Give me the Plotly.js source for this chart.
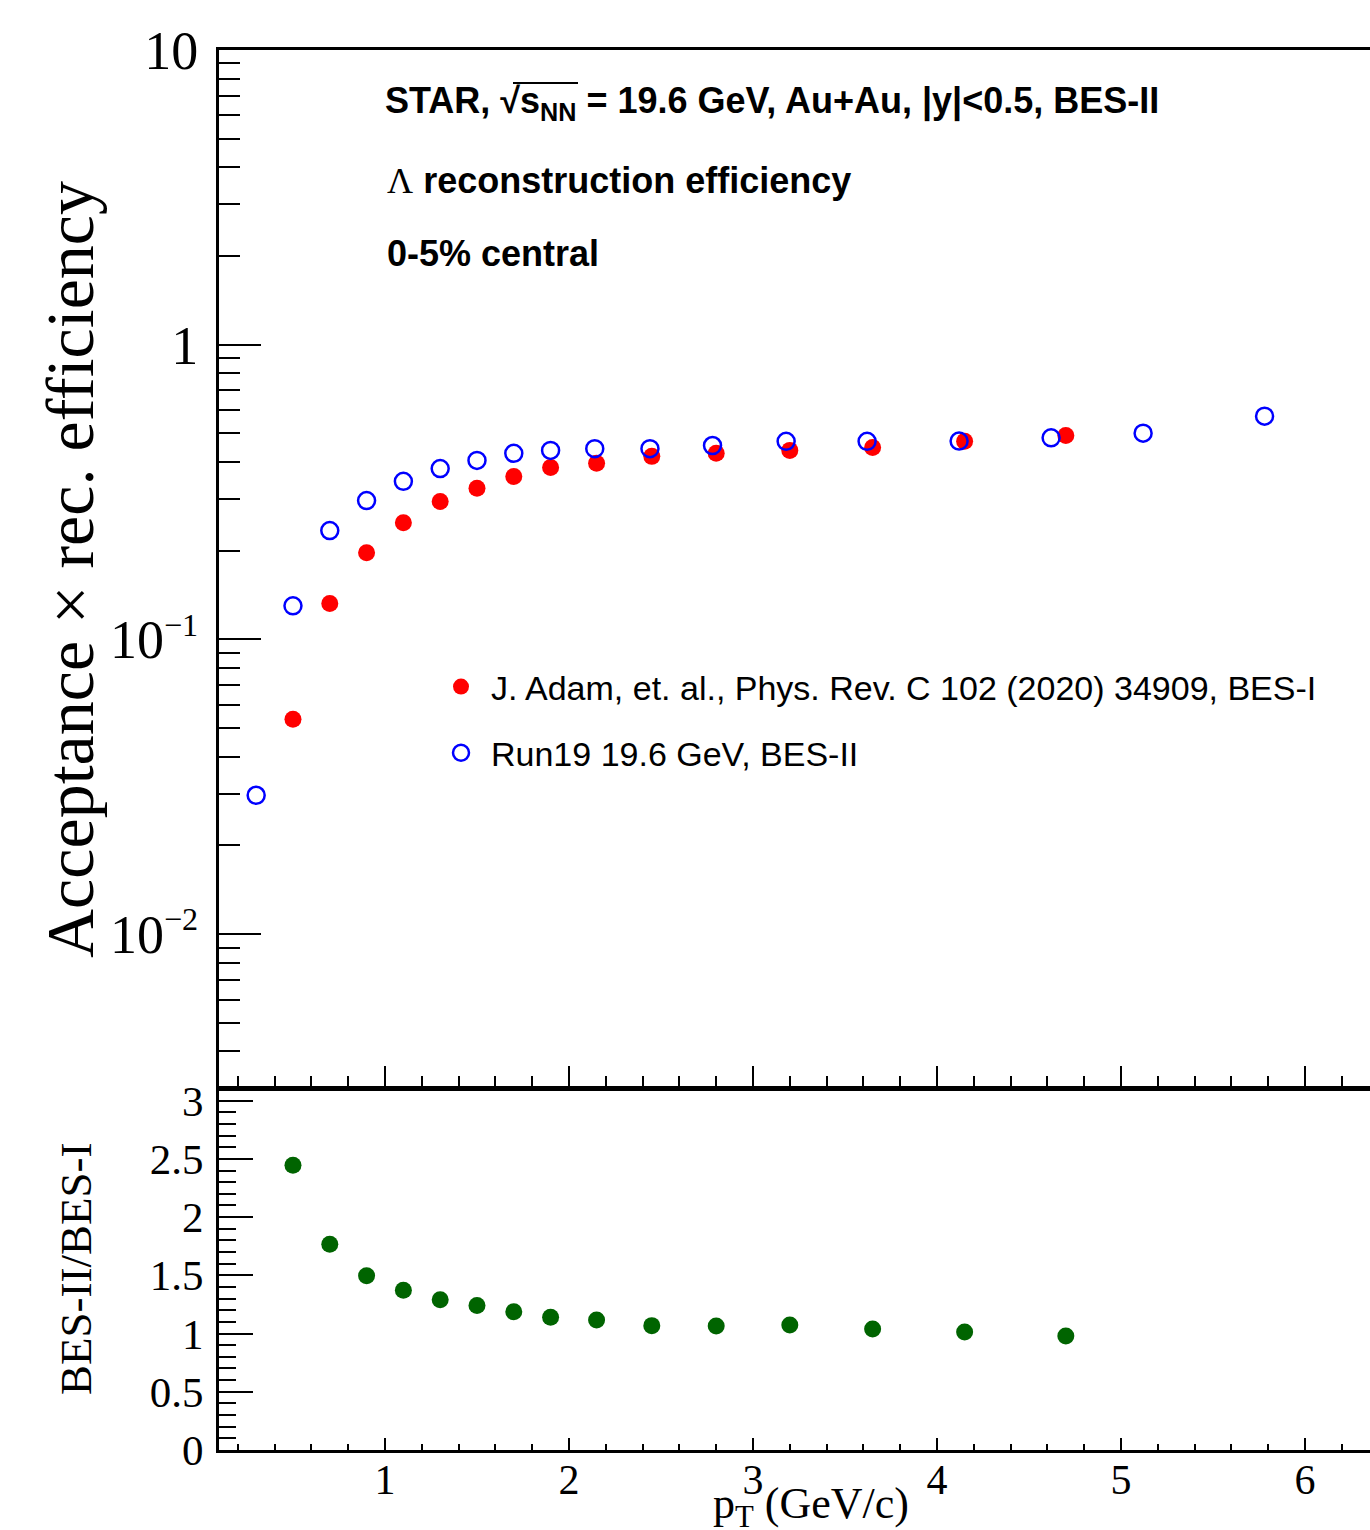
<!DOCTYPE html>
<html>
<head>
<meta charset="utf-8">
<script src="https://cdn.plot.ly/plotly-3.0.1.min.js"></script>
<style>
  html, body { margin: 0; padding: 0; background: #ffffff; }
  #chart { width: 1370px; height: 1530px; }
</style>
</head>
<body>
<div id="chart"></div>
<script>
// Lambda acceptance x reconstruction efficiency, 0-5% central Au+Au at 19.6 GeV

// BES-I (published) efficiency
const ptBES1 = [0.5, 0.7, 0.9, 1.1, 1.3, 1.5, 1.7, 1.9, 2.15, 2.45, 2.8, 3.2, 3.65, 4.15, 4.7];
const effBES1 = [0.0536, 0.1325, 0.197, 0.249, 0.294, 0.326, 0.357, 0.383, 0.396, 0.418, 0.428, 0.438, 0.448, 0.470, 0.492];

// BES-II (Run19) efficiency
const ptBES2 = [0.3, 0.5, 0.7, 0.9, 1.1, 1.3, 1.5, 1.7, 1.9, 2.14, 2.44, 2.78, 3.18, 3.62, 4.12, 4.62, 5.12, 5.78];
const effBES2 = [0.0296, 0.130, 0.234, 0.296, 0.344, 0.380, 0.405, 0.428, 0.438, 0.444, 0.444, 0.455, 0.470, 0.470, 0.471, 0.483, 0.501, 0.572];

// Ratio BES-II / BES-I at the BES-I pT bins
const ratioVals = [2.446, 1.767, 1.497, 1.372, 1.291, 1.240, 1.188, 1.140, 1.117, 1.068, 1.065, 1.074, 1.040, 1.014, 0.979];

// Axis ticks
const xTickVals = [1, 2, 3, 4, 5, 6];
const xMinorVals = [0.2, 0.4, 0.6, 0.8, 1.2, 1.4, 1.6, 1.8, 2.2, 2.4, 2.6, 2.8, 3.2, 3.4, 3.6, 3.8,
                    4.2, 4.4, 4.6, 4.8, 5.2, 5.4, 5.6, 5.8, 6.2];
const yLogTickVals = [0.01, 0.1, 1, 10];
const yLogTickText = ['10<sup><span style="font-size:85%">\u22122</span></sup>',
                      '10<sup><span style="font-size:85%">\u22121</span></sup>', '1', '10'];
const yLogMinorVals = [0.004, 0.005, 0.006, 0.007, 0.008, 0.009,
                       0.02, 0.03, 0.04, 0.05, 0.06, 0.07, 0.08, 0.09,
                       0.2, 0.3, 0.4, 0.5, 0.6, 0.7, 0.8, 0.9,
                       2, 3, 4, 5, 6, 7, 8, 9];
const yRatioTickVals = [0, 0.5, 1, 1.5, 2, 2.5, 3];
const yRatioTickText = ['0', '0.5', '1', '1.5', '2', '2.5', '3'];

const serif = 'Liberation Serif, Times New Roman, serif';
const sans = 'Liberation Sans, Arial, Helvetica, sans-serif';

// figure geometry (pixels)
const W = 1370, H = 1530;
const mL = 219, mR = 0, mT = 50, mB = 80;
const plotW = W - mL - mR, plotH = H - mT - mB;
const px2paperX = p => (p - mL) / plotW;
const px2paperY = p => (H - mB - p) / plotH;

const traces = [
  {
    x: ptBES1, y: effBES1, xaxis: 'x2', yaxis: 'y',
    type: 'scatter', mode: 'markers',
    name: 'J. Adam, et. al., Phys. Rev. C 102 (2020) 34909, BES-I',
    legendgroup: 'a',
    marker: { symbol: 'circle', size: 17, color: '#ff0000' }
  },
  {
    x: ptBES2, y: effBES2, xaxis: 'x2', yaxis: 'y',
    type: 'scatter', mode: 'markers',
    name: 'Run19 19.6 GeV, BES-II',
    legendgroup: 'b',
    marker: { symbol: 'circle-open', size: 17, color: '#0000ff', line: { color: '#0000ff', width: 2.5 } }
  },
  {
    x: ptBES1, y: ratioVals, xaxis: 'x', yaxis: 'y2',
    type: 'scatter', mode: 'markers',
    showlegend: false,
    marker: { symbol: 'circle', size: 17, color: '#006400' }
  }
];

const axisCommon = {
  showgrid: false, zeroline: false, showline: true,
  linecolor: '#000', tickcolor: '#000', ticks: 'inside'
};

const layout = {
  width: W, height: H,
  margin: { l: mL, r: mR, t: mT, b: mB },
  paper_bgcolor: '#ffffff', plot_bgcolor: '#ffffff',
  font: { family: serif, color: '#000' },
  showlegend: true,
  legend: {
    x: px2paperX(431), y: px2paperY(658), xanchor: 'left', yanchor: 'top',
    bgcolor: 'rgba(0,0,0,0)', borderwidth: 0, itemwidth: 50,
    font: { family: sans, size: 34, color: '#000' },
    traceorder: 'grouped', tracegroupgap: 19
  },
  // lower (ratio) panel x axis
  xaxis: Object.assign({}, axisCommon, {
    domain: [0, 1], anchor: 'y2', range: [0.098, 6.353],
    tickmode: 'array', tickvals: xTickVals, ticktext: xTickVals.map(String),
    ticklen: 12, tickwidth: 2, linewidth: 3, mirror: true,
    tickfont: { family: serif, size: 42 }, ticklabelstandoff: -9,
    minor: { tickmode: 'array', tickvals: xMinorVals, ticks: 'inside', ticklen: 6, tickwidth: 2, tickcolor: '#000', showgrid: false }
  }),
  // upper panel x axis
  xaxis2: Object.assign({}, axisCommon, {
    domain: [0, 1], anchor: 'y', matches: 'x', range: [0.098, 6.353],
    tickmode: 'array', tickvals: xTickVals, showticklabels: false,
    ticklen: 22, tickwidth: 2, linewidth: 3, mirror: true,
    minor: { tickmode: 'array', tickvals: xMinorVals, ticks: 'inside', ticklen: 12, tickwidth: 2, tickcolor: '#000', showgrid: false }
  }),
  // upper panel log y axis
  yaxis: Object.assign({}, axisCommon, {
    type: 'log', domain: [(H - mB - 1088) / plotH, 1], anchor: 'x2',
    range: [-2.522, 1],
    tickmode: 'array', tickvals: yLogTickVals, ticktext: yLogTickText,
    ticklen: 42, tickwidth: 2, linewidth: 3,
    tickfont: { family: serif, size: 54 }, ticklabelstandoff: 7,
    minor: { tickmode: 'array', tickvals: yLogMinorVals, ticks: 'inside', ticklen: 21, tickwidth: 2, tickcolor: '#000', showgrid: false }
  }),
  // lower panel ratio y axis
  yaxis2: Object.assign({}, axisCommon, {
    domain: [0, (H - mB - 1089) / plotH], anchor: 'x',
    range: [0, 3.1],
    tickmode: 'array', tickvals: yRatioTickVals, ticktext: yRatioTickText,
    ticklen: 34, tickwidth: 2, linewidth: 3,
    tickfont: { family: serif, size: 43 }, ticklabelstandoff: 4,
    minor: { tickmode: 'linear', tick0: 0, dtick: 0.1, ticks: 'inside', ticklen: 17, tickwidth: 2, tickcolor: '#000', showgrid: false }
  }),
  // bar over s_NN in the square root
  shapes: [
    {
      type: 'line', xref: 'paper', yref: 'paper', layer: 'above',
      x0: px2paperX(513), x1: px2paperX(578), y0: px2paperY(83), y1: px2paperY(83),
      line: { color: '#000', width: 2 }
    }
  ],
  annotations: [
    {
      xref: 'paper', yref: 'paper', x: px2paperX(383), y: px2paperY(103),
      xanchor: 'left', yanchor: 'middle', showarrow: false,
      text: '<b>STAR, \u221As<sub>NN</sub> = 19.6 GeV, Au+Au, |y|&lt;0.5, BES-II</b>',
      font: { family: sans, size: 36, color: '#000' }
    },
    {
      xref: 'paper', yref: 'paper', x: px2paperX(385), y: px2paperY(181),
      xanchor: 'left', yanchor: 'middle', showarrow: false,
      text: '<span style="font-family:Liberation Serif">\u039B</span> <b>reconstruction efficiency</b>',
      font: { family: sans, size: 36, color: '#000' }
    },
    {
      xref: 'paper', yref: 'paper', x: px2paperX(385), y: px2paperY(253),
      xanchor: 'left', yanchor: 'middle', showarrow: false,
      text: '<b>0-5% central</b>',
      font: { family: sans, size: 36, color: '#000' }
    },
    {
      xref: 'paper', yref: 'paper', x: px2paperX(70), y: px2paperY(570),
      xanchor: 'center', yanchor: 'middle', showarrow: false, textangle: -90,
      text: 'Acceptance \u00D7 rec. efficiency',
      font: { family: serif, size: 68, color: '#000' }
    },
    {
      xref: 'paper', yref: 'paper', x: px2paperX(76), y: px2paperY(1269),
      xanchor: 'center', yanchor: 'middle', showarrow: false, textangle: -90,
      text: 'BES-II/BES-I',
      font: { family: serif, size: 45, color: '#000' }
    },
    {
      xref: 'paper', yref: 'paper', x: px2paperX(711), y: px2paperY(1506),
      xanchor: 'left', yanchor: 'middle', showarrow: false,
      text: 'p<sub>T</sub> (GeV/c)',
      font: { family: serif, size: 44, color: '#000' }
    }
  ]
};

Plotly.newPlot('chart', traces, layout, { staticPlot: true, displayModeBar: false });
</script>
</body>
</html>
